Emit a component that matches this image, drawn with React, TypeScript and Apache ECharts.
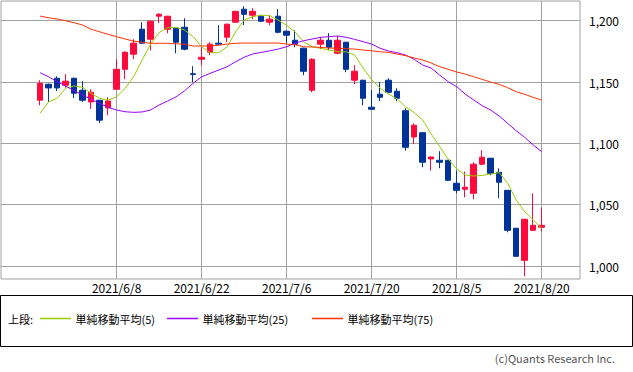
import React, { useEffect, useRef } from 'react';
import * as echarts from 'echarts';

const dates = [
  '2021/5/26', '2021/5/27', '2021/5/28', '2021/5/31', '2021/6/1', '2021/6/2', '2021/6/3', '2021/6/4', '2021/6/7', '2021/6/8',
  '2021/6/9', '2021/6/10', '2021/6/11', '2021/6/14', '2021/6/15', '2021/6/16', '2021/6/17', '2021/6/18', '2021/6/21', '2021/6/22',
  '2021/6/23', '2021/6/24', '2021/6/25', '2021/6/28', '2021/6/29', '2021/6/30', '2021/7/1', '2021/7/2', '2021/7/5', '2021/7/6',
  '2021/7/7', '2021/7/8', '2021/7/9', '2021/7/12', '2021/7/13', '2021/7/14', '2021/7/15', '2021/7/16', '2021/7/19', '2021/7/20',
  '2021/7/21', '2021/7/26', '2021/7/27', '2021/7/28', '2021/7/29', '2021/7/30', '2021/8/2', '2021/8/3', '2021/8/4', '2021/8/5',
  '2021/8/6', '2021/8/10', '2021/8/11', '2021/8/12', '2021/8/13', '2021/8/16', '2021/8/17', '2021/8/18', '2021/8/19', '2021/8/20',
];

const opens = [
  1135.2, 1148.2, 1153.1, 1147.4, 1153.1, 1143.3, 1133.8, 1135.2, 1128.9, 1144.1,
  1160.4, 1172.7, 1193.1, 1184.9, 1203.7, 1193.1, 1193.9, 1194.7, 1156.8, 1168.6,
  1174.3, 1181.7, 1186.6, 1198.8, 1209.4, 1204.5, 1203.7, 1198.8, 1203.7, 1191.5,
  1184.1, 1177.6, 1143.3, 1180.9, 1184.1, 1173.5, 1182.5, 1151.5, 1151.5, 1129.5,
  1140.1, 1151.5, 1142.5, 1126.6, 1105.2, 1108.7, 1087.3, 1086.2, 1086.2, 1067.5,
  1062.6, 1059.3, 1083.0, 1087.9, 1076.4, 1061.7, 1030.8, 1004.6, 1029.1, 1031.6,
];
const closes = [
  1149.0, 1145.2, 1145.2, 1150.7, 1140.9, 1135.2, 1141.7, 1118.9, 1134.6, 1160.4,
  1174.3, 1181.7, 1181.7, 1199.6, 1205.3, 1203.7, 1182.5, 1176.8, 1156.2, 1170.2,
  1180.9, 1180.9, 1197.2, 1207.7, 1205.3, 1207.7, 1199.6, 1201.3, 1190.6, 1188.2,
  1180.9, 1158.8, 1168.6, 1184.1, 1178.4, 1184.1, 1160.4, 1158.8, 1136.8, 1127.8,
  1137.6, 1141.7, 1136.8, 1096.8, 1114.8, 1084.6, 1088.9, 1084.6, 1069.9, 1061.7,
  1064.2, 1083.0, 1088.7, 1075.6, 1068.3, 1029.1, 1007.9, 1038.1, 1033.2, 1033.2,
];
const lows = [
  1131.1, 1133.8, 1142.7, 1145.5, 1137.0, 1133.8, 1128.1, 1116.6, 1122.9, 1144.1,
  1152.3, 1168.6, 1180.9, 1175.9, 1198.0, 1189.8, 1173.5, 1175.9, 1149.9, 1163.7,
  1171.9, 1180.0, 1182.5, 1198.5, 1196.4, 1201.3, 1198.8, 1196.4, 1189.8, 1181.7,
  1178.4, 1155.6, 1141.7, 1176.8, 1175.9, 1172.7, 1158.0, 1148.2, 1131.1, 1127.5,
  1134.4, 1140.9, 1134.4, 1094.0, 1099.5, 1080.5, 1077.8, 1079.7, 1069.5, 1059.2,
  1056.0, 1054.4, 1082.2, 1074.0, 1055.2, 1027.5, 1007.5, 991.6, 1029.0, 1028.3,
];
const highs = [
  1151.5, 1148.8, 1154.7, 1156.4, 1153.6, 1150.7, 1144.1, 1135.5, 1137.6, 1168.6,
  1175.1, 1184.9, 1198.8, 1200.0, 1206.1, 1204.0, 1194.2, 1202.0, 1162.9, 1178.4,
  1182.5, 1196.4, 1197.5, 1208.0, 1211.8, 1210.2, 1204.5, 1204.5, 1209.4, 1192.0,
  1192.3, 1178.0, 1169.4, 1186.6, 1189.8, 1187.4, 1182.8, 1163.7, 1151.8, 1143.5,
  1149.9, 1153.1, 1145.0, 1128.6, 1116.4, 1109.0, 1089.2, 1093.6, 1086.5, 1077.8,
  1077.0, 1084.6, 1094.4, 1088.0, 1079.7, 1062.0, 1031.0, 1038.5, 1059.2, 1047.6,
];

const ma5 = [
  1124.5, 1133.9, 1136.7, 1144.9, 1146.8, 1145.7, 1140.8, 1136.7, 1135.3, 1138.0,
  1144.9, 1154.3, 1168.0, 1181.0, 1190.4, 1194.3, 1194.6, 1192.4, 1187.0, 1178.8,
  1173.9, 1173.9, 1178.8, 1191.0, 1200.6, 1203.3, 1204.6, 1204.1, 1200.6, 1196.1,
  1190.8, 1182.9, 1178.8, 1177.5, 1176.1, 1174.7, 1174.7, 1172.0, 1161.4, 1152.0,
  1144.9, 1140.2, 1136.2, 1129.6, 1125.2, 1119.0, 1107.6, 1097.3, 1087.2, 1079.1,
  1074.2, 1073.4, 1073.9, 1075.0, 1076.1, 1067.4, 1053.8, 1044.3, 1037.5, 1030.7,
];
const ma25 = [
  1157.6, 1154.3, 1150.3, 1146.8, 1142.9, 1139.4, 1135.9, 1132.6, 1129.4, 1127.2,
  1125.8, 1125.3, 1125.6, 1127.2, 1131.3, 1134.5, 1138.0, 1142.9, 1149.0, 1154.3,
  1157.1, 1159.8, 1162.5, 1166.6, 1170.2, 1172.9, 1174.2, 1175.5, 1176.9, 1178.8,
  1181.8, 1183.7, 1185.1, 1186.5, 1187.0, 1187.5, 1186.5, 1184.8, 1182.9, 1181.0,
  1177.5, 1175.3, 1173.9, 1172.0, 1168.5, 1163.9, 1161.4, 1155.7, 1150.3, 1146.2,
  1140.2, 1135.3, 1130.7, 1127.2, 1122.3, 1116.3, 1110.3, 1104.9, 1098.7, 1093.2,
];
const ma75 = [
  1203.8, 1202.4, 1201.4, 1200.0, 1198.4, 1196.5, 1193.0, 1191.0, 1188.9, 1187.0,
  1185.1, 1183.4, 1182.4, 1181.6, 1181.6, 1181.6, 1181.2, 1180.8, 1179.4, 1179.4,
  1179.4, 1180.0, 1181.0, 1181.6, 1181.8, 1181.8, 1181.8, 1181.8, 1181.8, 1181.0,
  1180.4, 1178.8, 1178.6, 1178.3, 1177.7, 1177.5, 1177.2, 1176.9, 1176.1, 1175.5,
  1174.7, 1174.2, 1172.8, 1171.5, 1169.6, 1168.0, 1165.5, 1162.5, 1160.4, 1158.2,
  1156.5, 1154.3, 1152.2, 1150.0, 1148.1, 1145.4, 1142.1, 1140.0, 1137.5, 1135.3,
];

const xTickIndices = [9, 19, 29, 39, 49, 59];
const yTicks = [1000, 1050, 1100, 1150, 1200];

const seriesNames = ['単純移動平均(5)', '単純移動平均(25)', '単純移動平均(75)'];
const seriesColors = ['#99cc00', '#9900ff', '#ff3300'];

const FONT = "'Noto Sans CJK JP', 'Noto Sans', sans-serif";
const UP = '#ff0a3c';
const DOWN = '#003399';
const GRID = '#a0a0a0';

export default function App() {
  const ref = useRef<HTMLDivElement>(null);
  useEffect(() => {
    const chart = echarts.init(ref.current!, null, { renderer: 'svg' });
    const candleData = dates.map((_, i) => [i, opens[i], closes[i], lows[i], highs[i]]);
    const maSets = [ma5, ma25, ma75];
    const legendLefts = [40, 167, 312];
    const legendY = 318.5;
    const legendGraphics: any[] = [];
    seriesNames.forEach((name, k) => {
      legendGraphics.push({
        type: 'line',
        shape: { x1: legendLefts[k], y1: legendY, x2: legendLefts[k] + 31, y2: legendY },
        style: { stroke: seriesColors[k], lineWidth: 1.5 },
      });
      legendGraphics.push({
        type: 'text',
        x: legendLefts[k] + 35.5,
        y: legendY,
        style: { text: name, fontSize: 11, fill: '#000', fontFamily: FONT, verticalAlign: 'middle' },
      });
    });
    chart.setOption({
      animation: false,
      backgroundColor: '#fff',
      textStyle: { fontFamily: FONT },
      grid: {
        left: 1, top: 1, right: 53, bottom: 93,
        show: true, borderColor: GRID, borderWidth: 1, backgroundColor: 'transparent',
      },
      xAxis: {
        type: 'value',
        min: -4.6,
        max: 63.5,
        axisLine: { show: false },
        axisTick: { show: false, customValues: xTickIndices },
        splitLine: { show: true, customValues: xTickIndices, lineStyle: { color: GRID, width: 1 } },
        axisLabel: {
          customValues: xTickIndices,
          formatter: (v: number) => dates[Math.round(v)] ?? '',
          color: '#000',
          fontSize: 12,
          fontFamily: FONT,
          margin: 2,
        },
      },
      yAxis: {
        type: 'value',
        position: 'right',
        min: 989.4,
        max: 1216.1,
        scale: true,
        axisLine: { show: false },
        axisTick: { show: true, length: 6, customValues: yTicks, lineStyle: { color: GRID } },
        splitLine: { show: true, customValues: yTicks, lineStyle: { color: GRID, width: 1 } },
        axisLabel: {
          customValues: yTicks,
          formatter: (v: number) => v.toLocaleString('en-US'),
          color: '#000',
          fontSize: 12,
          fontFamily: FONT,
          margin: 9,
        },
      },
      series: [
        {
          type: 'candlestick',
          data: candleData,
          barWidth: 6,
          itemStyle: {
            color: UP,
            color0: DOWN,
            borderColor: UP,
            borderColor0: DOWN,
            borderWidth: 1,
          },
          z: 2,
        },
        ...seriesNames.map((name, k) => ({
          type: 'line',
          name,
          data: maSets[k].map((v, i) => [i, v]),
          symbol: 'none',
          smooth: false,
          color: seriesColors[k],
          lineStyle: { color: seriesColors[k], width: 1 },
          z: 3,
        })),
      ],
      graphic: [
        {
          type: 'rect',
          shape: { x: 0.5, y: 295.5, width: 632, height: 51 },
          style: { fill: 'none', stroke: '#000', lineWidth: 1 },
        },
        {
          type: 'text',
          x: 8,
          y: legendY,
          style: { text: '上段:', fontSize: 11, fill: '#000', fontFamily: FONT, verticalAlign: 'middle' },
        },
        ...legendGraphics,
        {
          type: 'text',
          x: 615,
          y: 358,
          style: {
            text: '(c)Quants Research Inc.', fontSize: 11, fill: '#555', fontFamily: FONT,
            align: 'right', verticalAlign: 'middle',
          },
        },
      ],
    });
    return () => chart.dispose();
  }, []);
  return (
    <div
      ref={ref}
      style={{ position: 'absolute', left: 0, top: 0, width: 633, height: 372, background: '#fff' }}
    />
  );
}
